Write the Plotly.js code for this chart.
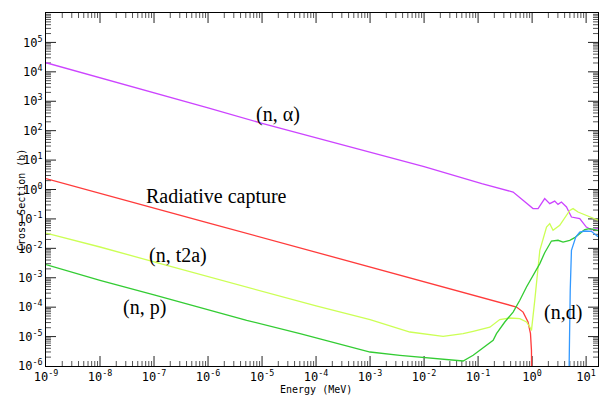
<!DOCTYPE html>
<html>
<head>
<meta charset="utf-8">
<script src="https://cdn.plot.ly/plotly-3.0.1.min.js"></script>
<style>html,body{margin:0;padding:0;background:#fff;}#chart{width:599px;height:396px;}</style>
</head>
<body>
<div id="chart"></div>
<script>
// Energy (MeV) and cross section (b)
var alphaE   = [1e-9, 1e-8, 1e-7, 1e-6, 1e-5, 1e-4, 1e-3, 1e-2, 0.117, 0.445, 1.04, 1.29, 1.71, 2.12, 2.62, 3.02, 3.49, 4.33, 5.35, 7.62, 10.1, 12.5, 16.6];
var alphaXS  = [2.04e4, 6.3e3, 2.0e3, 5.9e2, 1.78e2, 57.5, 18.6, 6.0, 1.58, 0.82, 0.224, 0.224, 0.49, 0.331, 0.405, 0.313, 0.375, 0.254, 0.116, 0.102, 0.053, 0.043, 0.047];

var captE    = [1e-9, 1e-8, 1e-7, 1e-6, 1e-5, 1e-4, 1e-3, 1e-2, 0.165, 0.514, 0.681, 0.841, 0.933, 0.973, 1.0];
var captXS   = [2.34, 0.76, 0.234, 0.074, 0.0234, 7.4e-3, 2.34e-3, 7.4e-4, 1.81e-4, 1.01e-4, 6.8e-5, 3.13e-5, 1.26e-5, 3.4e-6, 1e-8];

var t2aE     = [1e-9, 1e-8, 1e-7, 1e-6, 1e-5, 1e-4, 1e-3, 5.47e-3, 0.0225, 0.0528, 0.081, 0.165, 0.252, 0.386, 0.592, 0.787, 0.906, 0.973, 1.12, 1.29, 1.39, 1.85, 2.12, 2.44, 3.25, 4.98, 5.73, 7.08, 10.1, 15.5, 16.6];
var t2aXS    = [0.0331, 0.0111, 3.47e-3, 1.10e-3, 3.47e-4, 1.10e-4, 3.8e-5, 1.43e-5, 1.02e-5, 1.26e-5, 1.51e-5, 2.09e-5, 3.8e-5, 4.28e-5, 4.08e-5, 3.13e-5, 2.12e-5, 1.63e-5, 1.71e-4, 1.79e-3, 8.6e-3, 0.053, 0.069, 0.041, 0.0605, 0.195, 0.224, 0.172, 0.132, 0.0946, 0.09];

var npE      = [1e-9, 1e-8, 1e-7, 1e-6, 5.2e-6, 5.05e-5, 1e-3, 3.57e-3, 0.0196, 0.0528, 0.081, 0.19, 0.219, 0.312, 0.445, 0.592, 0.787, 1.04, 1.39, 1.71, 2.28, 3.02, 3.74, 4.98, 6.15, 7.62, 9.42, 11.7, 16.6];
var npXS     = [2.82e-3, 8.2e-4, 2.63e-4, 8.3e-5, 3.57e-5, 1.26e-5, 2.99e-6, 2.31e-6, 1.79e-6, 1.48e-6, 2.31e-6, 7.5e-6, 1.26e-5, 3.13e-5, 6.8e-5, 1.71e-4, 4.84e-4, 1.21e-3, 3.03e-3, 7.1e-3, 0.0177, 0.0188, 0.0164, 0.0188, 0.0231, 0.0316, 0.0433, 0.0468, 0.0409];

var ndE      = [4.67, 4.86, 5.08, 5.35, 5.73, 6.43, 7.62, 9.42, 12.5, 15.5, 16.6];
var ndXS     = [1e-8, 1.63e-5, 3.74e-4, 8.6e-3, 0.0127, 0.0243, 0.0359, 0.0388, 0.0378, 0.0277, 0.025];

var xTickVals   = [1e-9, 1e-8, 1e-7, 1e-6, 1e-5, 1e-4, 1e-3, 1e-2, 1e-1, 1, 10];
var xTickLabels = ['10<sup>-9</sup>', '10<sup>-8</sup>', '10<sup>-7</sup>', '10<sup>-6</sup>', '10<sup>-5</sup>', '10<sup>-4</sup>', '10<sup>-3</sup>', '10<sup>-2</sup>', '10<sup>-1</sup>', '10<sup>0</sup>', '10<sup>1</sup>'];
var yTickVals   = [1e-6, 1e-5, 1e-4, 1e-3, 1e-2, 1e-1, 1, 10, 100, 1e3, 1e4, 1e5];
var yTickLabels = ['10<sup>-6</sup>', '10<sup>-5</sup>', '10<sup>-4</sup>', '10<sup>-3</sup>', '10<sup>-2</sup>', '10<sup>-1</sup>', '10<sup>0</sup>', '10<sup>1</sup>', '10<sup>2</sup>', '10<sup>3</sup>', '10<sup>4</sup>', '10<sup>5</sup>'];

var seriesNames = ['(n, α)', 'Radiative capture', '(n, t2a)', '(n, p)', '(n,d)'];

var W = 599, H = 396, L = 46, R = 1, T = 13, B = 30;
var pw = W - L - R, ph = H - T - B;
var xMin = -9, xMax = 1.22, yMin = -6, yMax = 6;
var xDecPx = pw / (xMax - xMin), yDecPx = ph / (yMax - yMin);

// Tick marks on all four sides as null-separated line segments on the log axes
var tkMajX = [], tkMajY = [], tkMinX = [], tkMinY = [];
function segX(arrX, arrY, v, len) {
  var a = Math.pow(10, yMin), b = Math.pow(10, yMin + len / yDecPx);
  var c = Math.pow(10, yMax), d = Math.pow(10, yMax - len / yDecPx);
  arrX.push(v, v, null, v, v, null); arrY.push(a, b, null, c, d, null);
}
function segY(arrX, arrY, v, len) {
  var a = Math.pow(10, xMin), b = Math.pow(10, xMin + len / xDecPx);
  var c = Math.pow(10, xMax), d = Math.pow(10, xMax - len / xDecPx);
  arrX.push(a, b, null, c, d, null); arrY.push(v, v, null, v, v, null);
}
for (var p = xMin; p <= Math.floor(xMax); p++) {
  if (p > xMin) segX(tkMajX, tkMajY, Math.pow(10, p), 10);
  for (var k = 2; k <= 9; k++) {
    if (Math.log10(k) + p < xMax - 0.02) segX(tkMinX, tkMinY, k * Math.pow(10, p), 5);
  }
}
for (var q = yMin; q < yMax; q++) {
  if (q > yMin) segY(tkMajX, tkMajY, Math.pow(10, q), 10);
  for (var m = 2; m <= 9; m++) segY(tkMinX, tkMinY, m * Math.pow(10, q), 5);
}

var lw = 1.3;
var traces = [
  {x: tkMinX, y: tkMinY, mode: 'lines', line: {color: '#555', width: 1}, connectgaps: false, hoverinfo: 'skip'},
  {x: tkMajX, y: tkMajY, mode: 'lines', line: {color: '#222', width: 1}, connectgaps: false, hoverinfo: 'skip'},
  {x: alphaE, y: alphaXS, name: seriesNames[0], mode: 'lines', line: {color: '#cc44ff', width: lw}},
  {x: captE, y: captXS, name: seriesNames[1], mode: 'lines', line: {color: '#ff3b3b', width: lw}},
  {x: t2aE, y: t2aXS, name: seriesNames[2], mode: 'lines', line: {color: '#ccff55', width: lw}},
  {x: npE, y: npXS, name: seriesNames[3], mode: 'lines', line: {color: '#33cc33', width: lw}},
  {x: ndE, y: ndXS, name: seriesNames[4], mode: 'lines', line: {color: '#3399ff', width: lw}}
];

var tickFont = {family: 'DejaVu Sans Mono', size: 12, color: '#000'};
var labelFont = {family: 'Liberation Serif', size: 20, color: '#000'};
function px(x) { return (x - L) / pw; }
function py(y) { return 1 - (y - T) / ph; }
function lab(text, x, y, font, angle) {
  return {text: text, xref: 'paper', yref: 'paper', x: px(x), y: py(y), xanchor: 'center', yanchor: 'middle',
          textangle: angle || 0, showarrow: false, font: font};
}

var layout = {
  width: W, height: H,
  margin: {l: L, r: R, t: T, b: B, pad: 0},
  paper_bgcolor: '#fff', plot_bgcolor: '#fff',
  showlegend: false,
  xaxis: {
    type: 'log', range: [xMin, xMax], tickmode: 'array', tickvals: xTickVals, ticktext: xTickLabels,
    ticks: '', showline: true, linecolor: '#000', linewidth: 1, mirror: true,
    showgrid: false, zeroline: false, tickfont: tickFont
  },
  yaxis: {
    type: 'log', range: [yMin, yMax], tickmode: 'array', tickvals: yTickVals, ticktext: yTickLabels,
    ticks: '', showline: true, linecolor: '#000', linewidth: 1, mirror: true,
    showgrid: false, zeroline: false, tickfont: tickFont
  },
  annotations: [
    lab(seriesNames[0], 278, 114, labelFont),
    lab(seriesNames[1], 216, 196, labelFont),
    lab(seriesNames[2], 178, 255, labelFont),
    lab(seriesNames[3], 144, 307, labelFont),
    lab(seriesNames[4], 563, 312, labelFont),
    lab('Cross Section (b)', 21, 200, {family: 'DejaVu Sans Mono', size: 10, color: '#000'}, -90),
    lab('Energy (MeV)', 316, 389, {family: 'DejaVu Sans Mono', size: 10, color: '#000'})
  ]
};

Plotly.newPlot('chart', traces, layout, {displayModeBar: false});
</script>
</body>
</html>
